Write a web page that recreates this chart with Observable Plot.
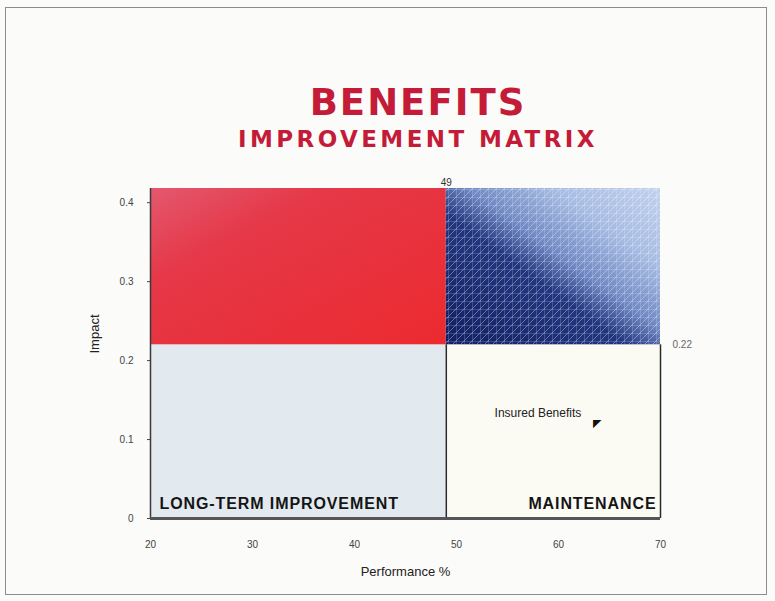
<!DOCTYPE html>
<html>
<head>
<meta charset="utf-8">
<script src="https://cdn.jsdelivr.net/npm/d3@7"></script>
<script src="https://cdn.jsdelivr.net/npm/@observablehq/plot@0.6"></script>
<style>
  body { margin: 0; background: #ffffff; }
  #wrap { position: relative; width: 775px; height: 601px; background: #fbfbf9; overflow: hidden; }
  #frame { position: absolute; left: 5px; top: 7px; width: 762px; height: 588px; border: 1.5px solid #8c8c8c; box-sizing: border-box; pointer-events: none; }
  #header { position: relative; height: 165px; }
  #title { position: absolute; left: 110px; width: 616px; top: 84px; text-align: center; font-family: "DejaVu Sans", Verdana, sans-serif; font-weight: bold; font-size: 37px; letter-spacing: 2px; color: #c41c38; line-height: 1; }
  #subtitle { position: absolute; left: 110px; width: 616px; top: 128px; text-align: center; font-family: "DejaVu Sans", Verdana, sans-serif; font-weight: bold; font-size: 23px; letter-spacing: 3.4px; color: #c41c38; line-height: 1; }
  #chart svg { display: block; }
</style>
</head>
<body>
<div id="wrap">
  <div id="header">
    <div id="title">BENEFITS</div>
    <div id="subtitle">IMPROVEMENT MATRIX</div>
  </div>
  <div id="chart"></div>
  <div id="frame"></div>
</div>
<script>
// ---- data ----
const xDomain = [20, 70];          // Performance %
const yDomain = [0, 0.418];        // Impact
const xTicks = [20, 30, 40, 50, 60, 70];
const yTicks = [0, 0.1, 0.2, 0.3, 0.4];
const xLabel = "Performance %";
const yLabel = "Impact";
const xSplit = 49;                 // vertical threshold
const ySplit = 0.22;               // horizontal threshold
const quadrantNames = ["LONG-TERM IMPROVEMENT", "MAINTENANCE"];
const pointNames = ["Insured Benefits"];
const pointX = [63.8];
const pointY = [0.12];

const points = pointNames.map((name, i) => ({ name, x: pointX[i], y: pointY[i] }));
const lowLeft  = [{ x1: xDomain[0], x2: xSplit,     y1: yDomain[0], y2: ySplit }];
const lowRight = [{ x1: xSplit,     x2: xDomain[1], y1: yDomain[0], y2: ySplit }];
const upLeft   = [{ x1: xDomain[0], x2: xSplit,     y1: ySplit,     y2: yDomain[1] }];
const upRight  = [{ x1: xSplit,     x2: xDomain[1], y1: ySplit,     y2: yDomain[1] }];

const font = "'Liberation Sans', Arial, sans-serif";

const chart = Plot.plot({
  width: 775,
  height: 436,
  marginTop: 23,
  marginBottom: 83,
  marginLeft: 150,
  marginRight: 115,
  style: { background: "transparent", fontFamily: font, color: "#444" },
  x: { domain: xDomain },
  y: { domain: yDomain },
  marks: [
    Plot.rect(lowLeft,  { x1: "x1", x2: "x2", y1: "y1", y2: "y2", fill: "#e2eaf0", className: "q-ll" }),
    Plot.rect(lowRight, { x1: "x1", x2: "x2", y1: "y1", y2: "y2", fill: "#fbfbf4", className: "q-lr" }),
    Plot.rect(upLeft,   { x1: "x1", x2: "x2", y1: "y1", y2: "y2", fill: "#e5313b", className: "q-ul" }),
    Plot.rect(upRight,  { x1: "x1", x2: "x2", y1: "y1", y2: "y2", fill: "#3a4f95", className: "q-ur" }),
    Plot.rect(upRight,  { x1: "x1", x2: "x2", y1: "y1", y2: "y2", fill: "#fff", className: "q-ur-pat" }),
    // frame lines
    Plot.ruleX([xDomain[0]], { y1: yDomain[0], y2: yDomain[1], stroke: "#3a3a3a", strokeWidth: 1.5 }),
    Plot.ruleX([xSplit],     { y1: yDomain[0], y2: ySplit, stroke: "#2a2a2a", strokeWidth: 1.5 }),
    Plot.ruleX([xDomain[1]], { y1: yDomain[0], y2: ySplit, stroke: "#2a2a2a", strokeWidth: 1.5 }),
    Plot.ruleY([yDomain[0]], { x1: xDomain[0], x2: xDomain[1], stroke: "#555", strokeWidth: 3 }),
    // axes
    Plot.axisY({ ticks: yTicks, tickFormat: d => d === 0 ? "0" : d3.format(".1f")(d), tickSize: 3, tickPadding: 14,
                 fontSize: 10, label: null }),
    Plot.axisX({ ticks: xTicks, tickSize: 0, tickPadding: 22, fontSize: 10, label: null }),
    Plot.text([yLabel], { frameAnchor: "left", text: d => d, rotate: -90, dx: -56, fontSize: 13, fill: "#222" }),
    Plot.text([xLabel], { frameAnchor: "bottom", text: d => d, dy: 57, fontSize: 13, fill: "#222" }),
    // threshold labels
    Plot.text([xSplit], { x: d => d, y: yDomain[1], text: d => String(d), dy: -6, fontSize: 10, fill: "#333" }),
    Plot.text([ySplit], { x: xDomain[1], y: d => d, text: d => String(d), dx: 12, textAnchor: "start", fontSize: 10, fill: "#666" }),
    // quadrant names
    Plot.text([quadrantNames[0]], { x: xDomain[0], y: yDomain[0], text: d => d, textAnchor: "start", dx: 9, dy: -15,
                                   fontSize: 16, fontWeight: "bold", fill: "#151515", className: "qname" }),
    Plot.text([quadrantNames[1]], { x: xDomain[1], y: yDomain[0], text: d => d, textAnchor: "end", dx: -4, dy: -15,
                                   fontSize: 16, fontWeight: "bold", fill: "#151515", className: "qname" }),
    // data point (cursor-like marker)
    Plot.text(points, { x: "x", y: "y", text: () => "\u25E4", fontSize: 11, fill: "#111", fontFamily: "DejaVu Sans" }),
    Plot.text(points, { x: "x", y: "y", text: "name", textAnchor: "end", dx: -16, dy: -11, fontSize: 12, fill: "#222" })
  ]
});

document.getElementById("chart").appendChild(chart);

// gradients & pattern
const svg = d3.select(chart);
const defs = svg.insert("defs", ":first-child");
const gr = defs.append("linearGradient").attr("id", "redGrad").attr("x1", 0).attr("y1", 0).attr("x2", 1).attr("y2", 1);
gr.append("stop").attr("offset", 0).attr("stop-color", "#e4586f");
gr.append("stop").attr("offset", 0.3).attr("stop-color", "#e53848");
gr.append("stop").attr("offset", 1).attr("stop-color", "#ec2a2f");
const gb = defs.append("linearGradient").attr("id", "blueGrad").attr("x1", 0).attr("y1", 1).attr("x2", 1).attr("y2", 0);
gb.append("stop").attr("offset", 0).attr("stop-color", "#121f63");
gb.append("stop").attr("offset", 0.42).attr("stop-color", "#22367f");
gb.append("stop").attr("offset", 0.55).attr("stop-color", "#7189c4");
gb.append("stop").attr("offset", 0.75).attr("stop-color", "#a7bce3");
gb.append("stop").attr("offset", 1).attr("stop-color", "#c2d2ee");
const pat = defs.append("pattern").attr("id", "hatch").attr("width", 8).attr("height", 8).attr("patternUnits", "userSpaceOnUse");
pat.append("path").attr("d", "M0 0H8M0 0V8M0 8L8 0").attr("stroke", "#ffffff").attr("stroke-width", 1).attr("stroke-opacity", 0.35).attr("fill", "none");
svg.selectAll(".q-ul rect").attr("fill", "url(#redGrad)");
svg.selectAll(".q-ur rect").attr("fill", "url(#blueGrad)");
svg.selectAll(".q-ur-pat rect").attr("fill", "url(#hatch)");
svg.selectAll(".qname text").style("letter-spacing", "0.9px");
</script>
</body>
</html>
